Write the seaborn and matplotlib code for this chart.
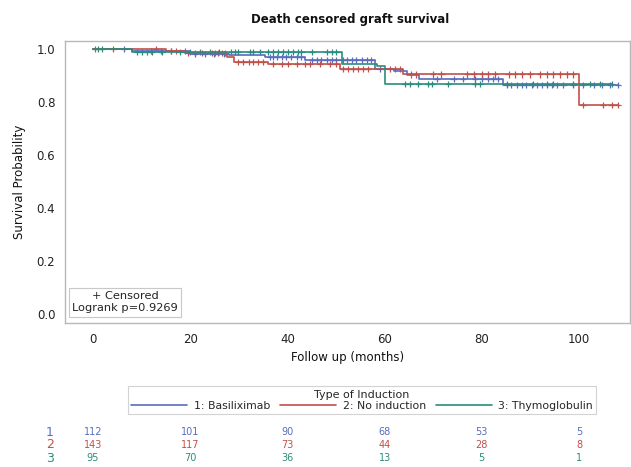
import numpy as np
import pandas as pd
import matplotlib
matplotlib.use("Agg")
import matplotlib.pyplot as plt
import seaborn as sns
from matplotlib.lines import Line2D
from matplotlib.transforms import blended_transform_factory

# ---------------- data ----------------
groups = ["1: Basiliximab", "2: No induction", "3: Thymoglobulin"]
colors = ["#5a6cbd", "#c0504a", "#2a8c7c"]

# step functions (time of drop, survival after drop)
blue_t = [0, 8, 20, 28, 35.4, 43.6, 58, 62, 64.6, 67, 84.4, 108.1]
blue_s = [1.0, 0.991, 0.982, 0.977, 0.969, 0.958, 0.925, 0.915, 0.902, 0.886, 0.864, 0.864]
red_t = [0, 15, 19, 27.5, 29, 36, 50.8, 63.8, 100, 108.1]
red_s = [1.0, 0.993, 0.984, 0.968, 0.952, 0.942, 0.923, 0.904, 0.789, 0.789]
green_t = [0, 8, 51.2, 58.4, 60, 106.7]
green_s = [1.0, 0.988, 0.945, 0.935, 0.867, 0.867]

# censoring times
blue_c = [6.3, 12, 14, 16, 19, 21, 23, 25, 27, 36.4, 37.1, 37.8, 38.8, 39.8, 40.8, 41.9,
          42.9, 45, 46, 47, 48.1, 49.1, 50.1, 51.5, 52.2, 53.2, 54.2, 55.3, 56.3, 57.3, 59,
          70.7, 74.2, 76.2, 78.6, 80, 81.3, 82.3, 83.4, 85.1, 86.1, 87.2, 88.2, 89.2, 90.3,
          91.3, 92.3, 93.4, 94.4, 95.4, 96.8, 98.8, 100.9, 103, 104.7, 106.4, 108.1]
red_c = [0.5, 4.2, 13, 16, 17, 19.5, 21, 22.5, 24.4, 25.1, 25.8, 26.5, 27.2, 29.9, 30.9, 32,
         33, 34, 35, 37.1, 38.8, 40.2, 41.9, 43.6, 44.7, 46.7, 48.8, 50.1, 51.5, 52.5, 53.6,
         54.6, 55.6, 56.6, 61.1, 62.1, 63.2, 65.5, 66.5, 70, 71.7, 76.9, 78.3, 80, 81.3, 82.7,
         85.5, 86.8, 88.2, 89.9, 92, 93.4, 94.7, 96.1, 97.5, 98.8, 100.9, 105, 106.7, 108.1]
green_c = [1.1, 1.8, 9, 10, 11.1, 12.1, 14.1, 18, 20, 22, 24, 26, 28.5, 29.2, 29.9, 32.3, 33,
           34.4, 36.1, 37.1, 38.1, 39.2, 40.2, 41.2, 42.2, 42.9, 45, 48.1, 49.1, 50.1, 64.2,
           65.2, 66.9, 69, 69.7, 73.1, 78.6, 79.6, 85.1, 90.6, 93.4, 94.7, 98.8, 102.3, 104.3,
           106.7]

risk_times = [0, 20, 40, 60, 80, 100]
risk_blue = [112, 101, 90, 68, 53, 5]
risk_red = [143, 117, 73, 44, 28, 8]
risk_green = [95, 70, 36, 13, 5, 1]

steps = [(blue_t, blue_s), (red_t, red_s), (green_t, green_s)]
cens = [blue_c, red_c, green_c]
risks = [risk_blue, risk_red, risk_green]

# ---------------- plot ----------------
sns.set_style("white")
plt.rcParams["font.family"] = ["DejaVu Sans"]

fig = plt.figure(figsize=(6.31, 4.67), dpi=100)
ax = fig.add_axes([65 / 631, 1 - 323 / 467, 565 / 631, (323 - 41) / 467])

frames = []
for g, (t, s) in zip(groups, steps):
    frames.append(pd.DataFrame({"time": t, "surv": s, "group": g}))
df = pd.concat(frames, ignore_index=True)

sns.lineplot(data=df, x="time", y="surv", hue="group", palette=colors,
             drawstyle="steps-post", linewidth=1.2, ax=ax, legend=False,
             estimator=None, sort=False)

cframes = []
for g, (t, s), c in zip(groups, steps, cens):
    c = np.array(c)
    idx = np.searchsorted(np.array(t), c, side="right") - 1
    cframes.append(pd.DataFrame({"time": c, "surv": np.array(s)[idx], "group": g}))
cdf = pd.concat(cframes, ignore_index=True)
sns.scatterplot(data=cdf, x="time", y="surv", hue="group", palette=colors,
                marker="+", s=20, linewidth=0.9, ax=ax, legend=False)

ax.set_xlim(-5.76, 110.5)
ax.set_ylim(-0.034, 1.030)
ax.set_xticks([0, 20, 40, 60, 80, 100])
ax.set_yticks([0.0, 0.2, 0.4, 0.6, 0.8, 1.0])
ax.set_yticklabels(["0.0", "0.2", "0.4", "0.6", "0.8", "1.0"])
ax.tick_params(axis="both", labelsize=8.5, length=4, width=0.8, color="#9a9a9a",
               pad=3, colors="#222222")
for sp in ax.spines.values():
    sp.set_color("#b8b8b8")
    sp.set_linewidth(1.0)
ax.set_xlabel("Follow up (months)", fontsize=8.5, labelpad=4, color="#111111")
ax.set_ylabel("Survival Probability", fontsize=8.5, labelpad=8, color="#111111")

fig.text(0.5 + 35 / 631, 1 - 20 / 467, "Death censored graft survival", ha="center",
         va="center", fontsize=8.5, fontweight="bold", color="#111111")

# inset box
ax.text(0.106, 0.035, "+ Censored\nLogrank p=0.9269", transform=ax.transAxes,
        ha="center", va="bottom", fontsize=8.2, color="#222222", linespacing=1.25,
        bbox=dict(boxstyle="square,pad=0.3", facecolor="white", edgecolor="#c8c8c8",
                  linewidth=0.8))

# legend
handles = [Line2D([0], [0], color=c, lw=1.2) for c in colors]
leg = fig.legend(handles, groups, loc="upper center",
                 bbox_to_anchor=(362 / 631, 1 - 381 / 467), ncol=3,
                 title="Type of Induction", fontsize=7.8, title_fontsize=8,
                 frameon=True, fancybox=False, edgecolor="#c8c8c8",
                 handlelength=5.2, columnspacing=0.9, handletextpad=0.6,
                 borderpad=0.3, labelspacing=0.2)
leg.get_frame().set_linewidth(0.8)
leg._legend_box.sep = 1

# at-risk table
trans = blended_transform_factory(ax.transData, fig.transFigure)
row_y = [1 - 432 / 467, 1 - 445 / 467, 1 - 458 / 467]
for i, (r, c) in enumerate(zip(risks, colors)):
    fig.text(50 / 631, row_y[i], str(i + 1), color=c, fontsize=9, ha="center",
             va="center")
    for tm, v in zip(risk_times, r):
        fig.text(tm, row_y[i], str(v), color=c, fontsize=7, ha="center", va="center",
                 transform=trans)

fig.savefig("out.png", dpi=100)
